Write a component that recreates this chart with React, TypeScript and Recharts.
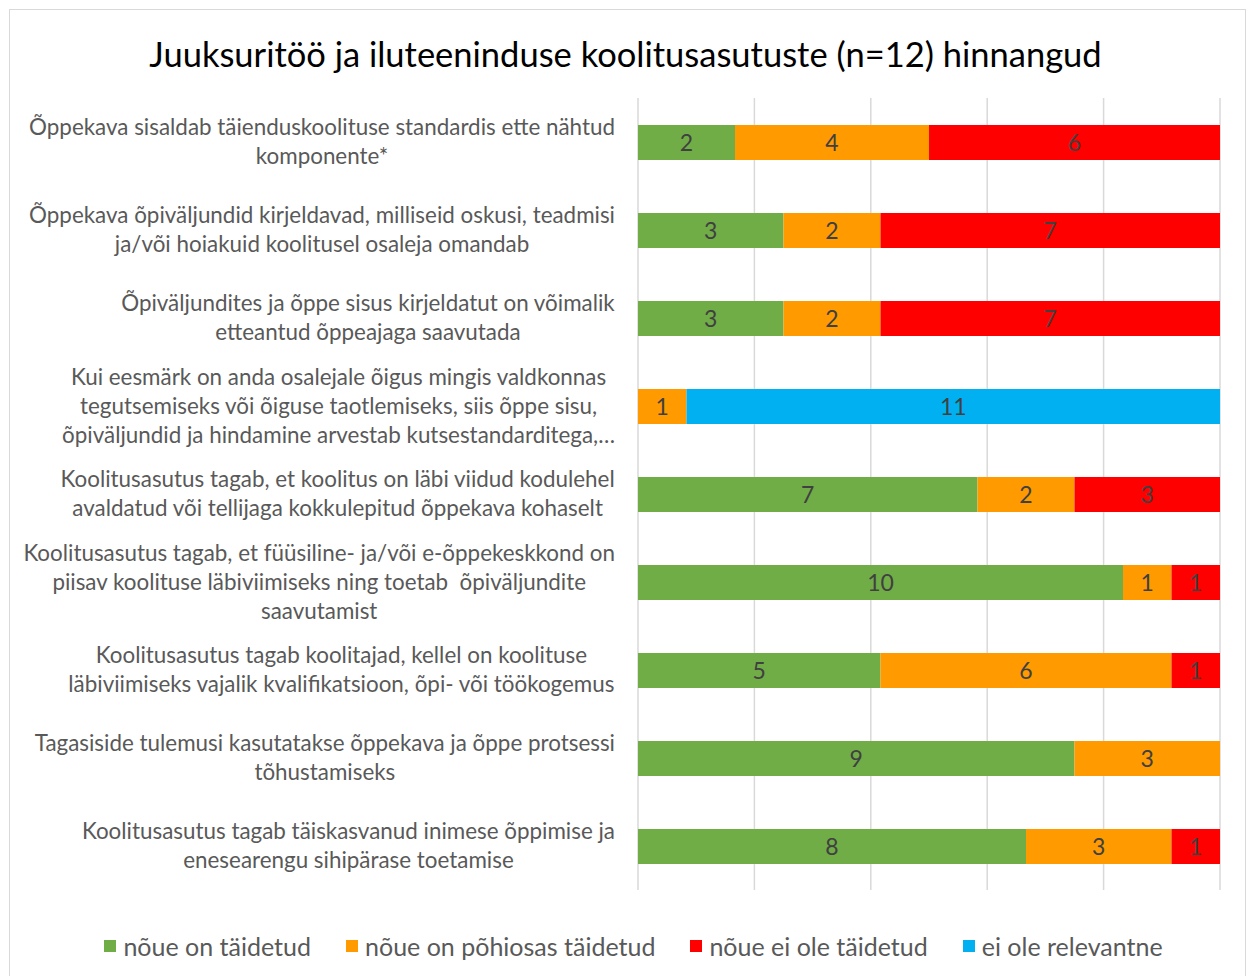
import React from "react";
import { BarChart, Bar, XAxis, YAxis, CartesianGrid, LabelList } from "recharts";

const TITLE = "Juuksuritöö ja iluteeninduse koolitusasutuste (n=12) hinnangud";

const categories = [
  "Õppekava sisaldab täienduskoolituse standardis ette nähtud\nkomponente*",
  "Õppekava õpiväljundid kirjeldavad, milliseid oskusi, teadmisi\nja/või hoiakuid koolitusel osaleja omandab",
  "Õpiväljundites ja õppe sisus kirjeldatut on võimalik\netteantud õppeajaga saavutada",
  "Kui eesmärk on anda osalejale õigus mingis valdkonnas\ntegutsemiseks või õiguse taotlemiseks, siis õppe sisu,\nõpiväljundid ja hindamine arvestab kutsestandarditega,…",
  "Koolitusasutus tagab, et koolitus on läbi viidud kodulehel\navaldatud või tellijaga kokkulepitud õppekava kohaselt",
  "Koolitusasutus tagab, et füüsiline- ja/või e-õppekeskkond on\npiisav koolituse läbiviimiseks ning toetab  õpiväljundite\nsaavutamist",
  "Koolitusasutus tagab koolitajad, kellel on koolituse\nläbiviimiseks vajalik kvalifikatsioon, õpi- või töökogemus",
  "Tagasiside tulemusi kasutatakse õppekava ja õppe protsessi\ntõhustamiseks",
  "Koolitusasutus tagab täiskasvanud inimese õppimise ja\nenesearengu sihipärase toetamise",
];

const taidetud = [2, 3, 3, 0, 7, 10, 5, 9, 8];
const pohiosas = [4, 2, 2, 1, 2, 1, 6, 3, 3];
const eiTaidetud = [6, 7, 7, 0, 3, 1, 1, 0, 1];
const eiRelevantne = [0, 0, 0, 11, 0, 0, 0, 0, 0];

const seriesNames = ["nõue on täidetud", "nõue on põhiosas täidetud", "nõue ei ole täidetud", "ei ole relevantne"];
const seriesKeys = ["taidetud", "pohiosas", "eiTaidetud", "eiRelevantne"];
const seriesColors = ["#70AD47", "#FF9A00", "#FF0000", "#00B0F0"];

const TOTAL = 12;
const gridTicks = [0, 2.4, 4.8, 7.2, 9.6, 12];

const data = categories.map((c, i) => ({
  name: c,
  taidetud: taidetud[i],
  pohiosas: pohiosas[i],
  eiTaidetud: eiTaidetud[i],
  eiRelevantne: eiRelevantne[i],
}));

const FONT = "Lato, 'Open Sans', sans-serif";
const LABEL_SIZE = 22.4;
const LINE_H = 29;
const TITLE_SIZE = 34.5;

let ctx: CanvasRenderingContext2D | null = null;
function measure(text: string, size: number) {
  if (!ctx) {
    const c = document.createElement("canvas");
    ctx = c.getContext("2d");
  }
  if (!ctx) return text.length * size * 0.5;
  ctx.font = `${size}px Lato`;
  return ctx.measureText(text).width;
}

const CategoryTick = (props: any) => {
  const { x, y, payload } = props;
  const lines = String(payload.value).split("\n");
  const maxW = Math.max(...lines.map((l) => measure(l, LABEL_SIZE)));
  const right = x - 23;
  const cx = right - maxW / 2;
  const start = -((lines.length - 1) * LINE_H) / 2 + LABEL_SIZE * 0.35;
  return (
    <text
      x={cx}
      y={y}
      textAnchor="middle"
      fill="#595959"
      fontSize={LABEL_SIZE}
      fontFamily={FONT}
      style={{ whiteSpace: "pre" }}
    >
      {lines.map((l, i) => (
        <tspan key={i} x={cx} dy={i === 0 ? start : LINE_H}>
          {l}
        </tspan>
      ))}
    </text>
  );
};

const labelFormatter = (v: any) => (v ? v : "");

export default function App() {
  return (
    <div
      style={{
        position: "absolute",
        left: 9,
        top: 9,
        width: 1237,
        height: 967,
        border: "1px solid #d9d9d9",
        borderBottom: "none",
        boxSizing: "border-box",
        background: "#fff",
        fontFamily: FONT,
      }}
    >
      <div
        style={{
          position: "absolute",
          left: 0,
          top: 27,
          width: 1231,
          textAlign: "center",
          fontSize: TITLE_SIZE,
          lineHeight: 1,
          color: "#000",
          whiteSpace: "nowrap",
        }}
      >
        {TITLE}
      </div>
      <div style={{ position: "absolute", left: 0, top: 0 }}>
        <BarChart
          width={1235}
          height={890}
          data={data}
          layout="vertical"
          margin={{ top: 88, right: 25, bottom: 10, left: 0 }}
          barSize={35}
        >
          <CartesianGrid horizontal={false} stroke="#d9d9d9" strokeWidth={1.5} />
          <XAxis type="number" domain={[0, TOTAL]} ticks={gridTicks} hide />
          <YAxis
            type="category"
            dataKey="name"
            width={628}
            axisLine={false}
            tickLine={false}
            tickSize={0}
            tickMargin={0}
            interval={0}
            tick={<CategoryTick />}
          />
          {seriesKeys.map((k, i) => (
            <Bar key={k} dataKey={k} name={seriesNames[i]} stackId="a" fill={seriesColors[i]} isAnimationActive={false}>
              <LabelList
                dataKey={k}
                position="center"
                formatter={labelFormatter}
                fill="#404040"
                fontSize={23}
                fontFamily={FONT}
              />
            </Bar>
          ))}
        </BarChart>
      </div>
      <div
        style={{
          position: "absolute",
          left: 6,
          top: 922,
          width: 1235,
          display: "flex",
          justifyContent: "center",
          alignItems: "center",
          fontSize: 25,
          color: "#595959",
          lineHeight: "28px",
        }}
      >
        {seriesNames.map((n, i) => (
          <div key={n} style={{ display: "flex", alignItems: "center", marginRight: i < seriesNames.length - 1 ? 35 : 0 }}>
            <span style={{ width: 12, height: 12, background: seriesColors[i], marginRight: 7, display: "inline-block" }} />
            <span>{n}</span>
          </div>
        ))}
      </div>
    </div>
  );
}
